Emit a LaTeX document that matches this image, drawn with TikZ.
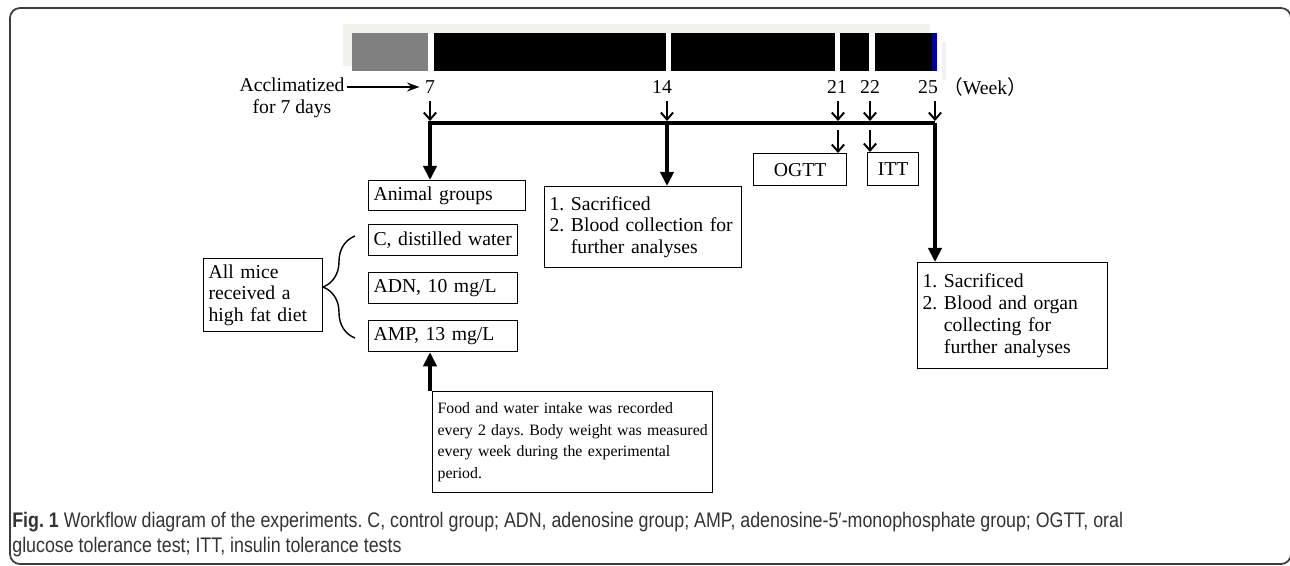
\documentclass[tikz,border=0pt]{standalone}
\usepackage{fontspec}
\setmainfont{Liberation Serif}
\newfontfamily\capfont[FakeStretch=0.845]{Liberation Sans}
\newfontfamily\cjk{Noto Sans CJK SC}
\usetikzlibrary{arrows.meta, decorations.pathreplacing, positioning}
\definecolor{barbg}{HTML}{F2F1EC}
\definecolor{bargray}{HTML}{808080}
\definecolor{barblue}{HTML}{0000A0}
\definecolor{capgray}{HTML}{333333}
\definecolor{framegray}{HTML}{3C3C3C}

\begin{document}
\frenchspacing\hyphenpenalty=10000
\begin{tikzpicture}[x=0.02cm, y=-0.02cm,
		every node/.style={font=\fontsize{11.2}{12.4}\selectfont},
		box/.style={draw, line width=0.7pt, anchor=north west, inner xsep=0.1cm, align=left},
		cbox/.style={draw, line width=0.7pt, anchor=north west, align=center},
		sarr/.style={line width=1.1pt, -{Straight Barb[length=4pt,width=7pt]}},
		tarr/.style={line width=2pt, -{Triangle[length=8pt,width=7.5pt]}},
		wk/.style={inner sep=0pt}]
		\useasboundingbox (0,0) rectangle (1290,565);
		\draw[framegray, line width=1pt, rounded corners=0.2cm] (10,8) rectangle (1291,564);
		% week bar
		\fill[barbg] (343,24) rectangle (930,66);
		\fill[barbg] (942,42) rectangle (946,80);
		\fill[bargray] (352,33) rectangle (428,71);
		\fill[black] (428,33) rectangle (932,71);
		\fill[barblue] (932,33) rectangle (937,71);
		\foreach \a/\b in {428/434, 666/671, 835/840, 869/875}
			\fill[white] (\a,33) rectangle (\b,71);
		% time line
		\node (acc) at (292,97.5) [align=center] {Acclimatized\\for 7 days};
		\coordinate (acc0) at (347,87);
		\node[wk] (w7) at (430,87) {7};
		\node[wk] (w14) at (662,87) {14};
		\node[wk] (w21) at (837,87) {21};
		\node[wk] (w22) at (870,87) {22};
		\node[wk] (w25) at (928,87) {25};
		\node[wk] (week) at (985,87) {{\cjk （}Week{\cjk ）}};
		\draw[line width=1.4pt, -{Stealth[length=7pt,width=5pt]}, shorten >=3pt] (acc0) -- (w7.west);
		\foreach \n/\x in {7/430, 14/667, 21/838, 22/870, 25/935} {
			\coordinate (s\n) at (\x,101);
			\coordinate (e\n) at (\x,121);
			\coordinate (t\n) at (\x,123);
			\draw[sarr] (s\n) -- (e\n);
		}
		\coordinate (u21) at (838,130);
		\coordinate (u22) at (870,130);
		% boxes
		\node[box, text width=2.94cm, minimum height=0.56cm] (grp) at (368,180) {Animal groups};
		\node[box, text width=2.78cm, minimum height=0.62cm] (ctl) at (368,224) {C, distilled water};
		\node[box, text width=2.78cm, minimum height=0.62cm] (adn) at (368,272) {ADN, 10 mg/L};
		\node[box, text width=2.78cm, minimum height=0.62cm] (amp) at (368,320) {AMP, 13 mg/L};
		\node[box, text width=2.18cm, minimum height=1.34cm] (mice) at (203,258) {All mice\\received a\\high fat diet};
		\node[box, text width=3.74cm, minimum height=1.62cm] (sac1) at (544,186)
			{1. Sacrificed\\2. Blood collection for\\\phantom{2. }further analyses};
		\node[cbox, minimum width=1.86cm, minimum height=0.64cm] (ogtt) at (753,153) {OGTT};
		\node[cbox, minimum width=1.02cm, minimum height=0.66cm] (itt) at (867,152) {ITT};
		\node[box, text width=3.60cm, minimum height=2.12cm] (sac2) at (917,262)
			{1. Sacrificed\\2. Blood and organ\\\phantom{2. }collecting for\\\phantom{2. }further analyses};
		\node[box, text width=5.40cm, minimum height=2.02cm, font=\fontsize{9.0}{12.2}\selectfont] (food) at (432,391)
			{\mbox{Food and water intake was recorded}\\\mbox{every 2 days. Body weight was measured}\\\mbox{every week during the experimental}\\period.};
		% connectors
		\draw[tarr] (t25) -- (t7) -- (t7 |- grp.north);
		\draw[tarr] (t14) -- (t14 |- sac1.north);
		\draw[tarr] (t25) -- (t25 |- sac2.north);
		\draw[sarr] (u21) -- (u21 |- ogtt.north);
		\draw[sarr] (u22) -- (u22 |- itt.north);
		\draw[tarr] (food.north -| t7) -- (amp.south -| t7);
		\coordinate (br1) at (355,338);
		\coordinate (br2) at (355,236);
		\draw[line width=0.8pt, decorate, decoration={brace, amplitude=0.64cm}] (br1) -- (br2);
		% caption
		\node[anchor=base west, align=left, text=capgray, inner sep=0pt,
			font=\capfont\fontsize{12}{14.2}\selectfont] (cap) at (12,552)
			{\textbf{Fig. 1} Workflow diagram of the experiments. C, control group; ADN, adenosine group; AMP, adenosine-5′-monophosphate group; OGTT, oral\\glucose tolerance test; ITT, insulin tolerance tests};
	\end{tikzpicture}
\end{document}
